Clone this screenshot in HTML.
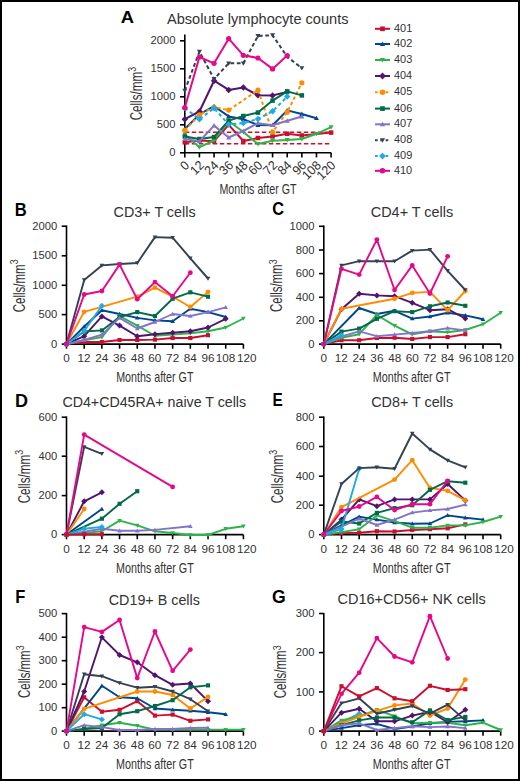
<!DOCTYPE html>
<html><head><meta charset="utf-8"><style>html,body{margin:0;padding:0;background:#fff;width:520px;height:781px;overflow:hidden}</style></head>
<body><svg width="520" height="781" viewBox="0 0 520 781" style="position:absolute;left:0;top:0"><g font-family='"Liberation Sans", sans-serif' fill="#333"><rect x="0" y="0" width="520" height="781" fill="#fff"/><rect x="1" y="1" width="518" height="779" fill="none" stroke="#000" stroke-width="2"/><path d="M184.80 34.60 V152.80 H331.10" fill="none" stroke="#000" stroke-width="1.6"/><path d="M180.00 152.80 H184.80" stroke="#000" stroke-width="1.6"/><path d="M180.00 124.80 H184.80" stroke="#000" stroke-width="1.6"/><path d="M180.00 96.80 H184.80" stroke="#000" stroke-width="1.6"/><path d="M180.00 68.80 H184.80" stroke="#000" stroke-width="1.6"/><path d="M180.00 40.80 H184.80" stroke="#000" stroke-width="1.6"/><path d="M184.80 152.80 V157.40" stroke="#000" stroke-width="1.6"/><path d="M199.43 152.80 V157.40" stroke="#000" stroke-width="1.6"/><path d="M214.06 152.80 V157.40" stroke="#000" stroke-width="1.6"/><path d="M228.69 152.80 V157.40" stroke="#000" stroke-width="1.6"/><path d="M243.32 152.80 V157.40" stroke="#000" stroke-width="1.6"/><path d="M257.95 152.80 V157.40" stroke="#000" stroke-width="1.6"/><path d="M272.58 152.80 V157.40" stroke="#000" stroke-width="1.6"/><path d="M287.21 152.80 V157.40" stroke="#000" stroke-width="1.6"/><path d="M301.84 152.80 V157.40" stroke="#000" stroke-width="1.6"/><path d="M316.47 152.80 V157.40" stroke="#000" stroke-width="1.6"/><path d="M331.10 152.80 V157.40" stroke="#000" stroke-width="1.6"/><text transform="translate(169.25 156.40) scale(0.9700 1)" font-size="11.59">0</text><text transform="translate(156.77 128.40) scale(0.9700 1)" font-size="11.59">500</text><text transform="translate(150.47 100.40) scale(0.9700 1)" font-size="11.59">1000</text><text transform="translate(150.47 72.40) scale(0.9700 1)" font-size="11.59">1500</text><text transform="translate(150.47 44.40) scale(0.9700 1)" font-size="11.59">2000</text><text transform="translate(189.80 166.40) rotate(-45) translate(-6.43 0) scale(0.97 1)" font-size="12.75">0</text><text transform="translate(204.43 166.40) rotate(-45) translate(-13.11 0) scale(0.97 1)" font-size="12.75">12</text><text transform="translate(219.06 166.40) rotate(-45) translate(-13.36 0) scale(0.97 1)" font-size="12.75">24</text><text transform="translate(233.69 166.40) rotate(-45) translate(-13.24 0) scale(0.97 1)" font-size="12.75">36</text><text transform="translate(248.32 166.40) rotate(-45) translate(-13.24 0) scale(0.97 1)" font-size="12.75">48</text><text transform="translate(262.95 166.40) rotate(-45) translate(-13.30 0) scale(0.97 1)" font-size="12.75">60</text><text transform="translate(277.58 166.40) rotate(-45) translate(-13.11 0) scale(0.97 1)" font-size="12.75">72</text><text transform="translate(292.21 166.40) rotate(-45) translate(-13.36 0) scale(0.97 1)" font-size="12.75">84</text><text transform="translate(306.84 166.40) rotate(-45) translate(-13.24 0) scale(0.97 1)" font-size="12.75">96</text><text transform="translate(321.47 166.40) rotate(-45) translate(-20.10 0) scale(0.97 1)" font-size="12.75">108</text><text transform="translate(336.10 166.40) rotate(-45) translate(-20.16 0) scale(0.97 1)" font-size="12.75">120</text><text transform="translate(219.44 194.00) scale(0.7530 1)" font-size="14.20">Months after GT</text><text transform="translate(142.45 119.75) rotate(-90) translate(-0.58 0) scale(0.7163 1)" font-size="16.23">Cells/mm</text><text transform="translate(142.45 119.75) rotate(-90) translate(47.90 -6.90) scale(0.8842 1)" font-size="10.00">3</text><text transform="translate(120.74 22.80) scale(1.0735 1)" font-size="17.10" font-weight="bold" fill="#000">A</text><text transform="translate(167.00 23.50) scale(0.9960 1)" font-size="14.64">Absolute lymphocyte counts</text><path d="M184.8 132.2 H331.3 M184.8 143.7 H331.3" stroke="#c8102e" stroke-width="1.5" stroke-dasharray="4.5 2.5" fill="none"/><path d="M184.80 142.30 L199.43 140.50 L214.06 141.20 L228.69 124.80 L243.32 141.00 L257.95 138.00 L272.58 136.40 L287.21 133.80 L301.84 135.50 L331.10 132.60" fill="none" stroke="#c8102e" stroke-width="2.0" stroke-linejoin="round"/><rect x="182.55" y="140.05" width="4.50" height="4.50" fill="#c8102e"/><rect x="197.18" y="138.25" width="4.50" height="4.50" fill="#c8102e"/><rect x="211.81" y="138.95" width="4.50" height="4.50" fill="#c8102e"/><rect x="226.44" y="122.55" width="4.50" height="4.50" fill="#c8102e"/><rect x="241.07" y="138.75" width="4.50" height="4.50" fill="#c8102e"/><rect x="255.70" y="135.75" width="4.50" height="4.50" fill="#c8102e"/><rect x="270.33" y="134.15" width="4.50" height="4.50" fill="#c8102e"/><rect x="284.96" y="131.55" width="4.50" height="4.50" fill="#c8102e"/><rect x="299.59" y="133.25" width="4.50" height="4.50" fill="#c8102e"/><rect x="328.85" y="130.35" width="4.50" height="4.50" fill="#c8102e"/><path d="M184.80 129.00 L199.43 114.40 L214.06 106.20 L228.69 116.40 L243.32 119.20 L257.95 125.00 L272.58 125.20 L287.21 110.40 L301.84 114.00 L316.47 118.20" fill="none" stroke="#00468c" stroke-width="2.0" stroke-linejoin="round"/><path d="M184.80 126.50L187.30 130.88L182.30 130.88Z" fill="#00468c"/><path d="M199.43 111.90L201.93 116.28L196.93 116.28Z" fill="#00468c"/><path d="M214.06 103.70L216.56 108.08L211.56 108.08Z" fill="#00468c"/><path d="M228.69 113.90L231.19 118.28L226.19 118.28Z" fill="#00468c"/><path d="M243.32 116.70L245.82 121.08L240.82 121.08Z" fill="#00468c"/><path d="M257.95 122.50L260.45 126.88L255.45 126.88Z" fill="#00468c"/><path d="M272.58 122.70L275.08 127.08L270.08 127.08Z" fill="#00468c"/><path d="M287.21 107.90L289.71 112.28L284.71 112.28Z" fill="#00468c"/><path d="M301.84 111.50L304.34 115.88L299.34 115.88Z" fill="#00468c"/><path d="M316.47 115.70L318.97 120.08L313.97 120.08Z" fill="#00468c"/><path d="M184.80 134.60 L199.43 147.20 L214.06 140.50 L228.69 121.00 L243.32 132.00 L257.95 144.00 L272.58 140.70 L287.21 139.90 L301.84 139.00 L316.47 133.80 L331.10 127.20" fill="none" stroke="#2db34a" stroke-width="2.0" stroke-linejoin="round"/><path d="M184.80 137.10L187.30 132.72L182.30 132.72Z" fill="#2db34a"/><path d="M199.43 149.70L201.93 145.32L196.93 145.32Z" fill="#2db34a"/><path d="M214.06 143.00L216.56 138.62L211.56 138.62Z" fill="#2db34a"/><path d="M228.69 123.50L231.19 119.12L226.19 119.12Z" fill="#2db34a"/><path d="M243.32 134.50L245.82 130.12L240.82 130.12Z" fill="#2db34a"/><path d="M257.95 146.50L260.45 142.12L255.45 142.12Z" fill="#2db34a"/><path d="M272.58 143.20L275.08 138.82L270.08 138.82Z" fill="#2db34a"/><path d="M287.21 142.40L289.71 138.03L284.71 138.03Z" fill="#2db34a"/><path d="M301.84 141.50L304.34 137.12L299.34 137.12Z" fill="#2db34a"/><path d="M316.47 136.30L318.97 131.93L313.97 131.93Z" fill="#2db34a"/><path d="M331.10 129.70L333.60 125.33L328.60 125.33Z" fill="#2db34a"/><path d="M184.80 119.20 L199.43 111.50 L214.06 80.70 L228.69 89.90 L243.32 87.40 L257.95 95.30 L272.58 95.40 L287.21 92.00" fill="none" stroke="#50146e" stroke-width="2.0" stroke-linejoin="round"/><path d="M184.80 115.95L188.05 119.20L184.80 122.45L181.55 119.20Z" fill="#50146e"/><path d="M199.43 108.25L202.68 111.50L199.43 114.75L196.18 111.50Z" fill="#50146e"/><path d="M214.06 77.45L217.31 80.70L214.06 83.95L210.81 80.70Z" fill="#50146e"/><path d="M228.69 86.65L231.94 89.90L228.69 93.15L225.44 89.90Z" fill="#50146e"/><path d="M243.32 84.15L246.57 87.40L243.32 90.65L240.07 87.40Z" fill="#50146e"/><path d="M257.95 92.05L261.20 95.30L257.95 98.55L254.70 95.30Z" fill="#50146e"/><path d="M272.58 92.15L275.83 95.40L272.58 98.65L269.33 95.40Z" fill="#50146e"/><path d="M287.21 88.75L290.46 92.00L287.21 95.25L283.96 92.00Z" fill="#50146e"/><path d="M184.80 130.30 L199.43 114.90 L214.06 107.00 L228.69 110.10 L257.95 90.20 L272.58 132.00 L287.21 112.20 L301.84 82.80" fill="none" stroke="#ff8c00" stroke-width="2.0" stroke-linejoin="round" stroke-dasharray="3.3 2.6"/><circle cx="184.80" cy="130.30" r="2.62" fill="#ff8c00"/><circle cx="199.43" cy="114.90" r="2.62" fill="#ff8c00"/><circle cx="214.06" cy="107.00" r="2.62" fill="#ff8c00"/><circle cx="228.69" cy="110.10" r="2.62" fill="#ff8c00"/><circle cx="257.95" cy="90.20" r="2.62" fill="#ff8c00"/><circle cx="272.58" cy="132.00" r="2.62" fill="#ff8c00"/><circle cx="287.21" cy="112.20" r="2.62" fill="#ff8c00"/><circle cx="301.84" cy="82.80" r="2.62" fill="#ff8c00"/><path d="M184.80 136.50 L199.43 139.00 L214.06 137.00 L228.69 120.60 L243.32 116.00 L257.95 112.60 L272.58 100.60 L287.21 91.40 L301.84 95.40" fill="none" stroke="#006b46" stroke-width="2.0" stroke-linejoin="round"/><rect x="182.55" y="134.25" width="4.50" height="4.50" fill="#006b46"/><rect x="197.18" y="136.75" width="4.50" height="4.50" fill="#006b46"/><rect x="211.81" y="134.75" width="4.50" height="4.50" fill="#006b46"/><rect x="226.44" y="118.35" width="4.50" height="4.50" fill="#006b46"/><rect x="241.07" y="113.75" width="4.50" height="4.50" fill="#006b46"/><rect x="255.70" y="110.35" width="4.50" height="4.50" fill="#006b46"/><rect x="270.33" y="98.35" width="4.50" height="4.50" fill="#006b46"/><rect x="284.96" y="89.15" width="4.50" height="4.50" fill="#006b46"/><rect x="299.59" y="93.15" width="4.50" height="4.50" fill="#006b46"/><path d="M184.80 139.00 L199.43 141.30 L214.06 125.60 L228.69 137.50 L243.32 131.00 L257.95 123.20 L272.58 125.20 L287.21 120.80 L301.84 116.50" fill="none" stroke="#8474c8" stroke-width="2.0" stroke-linejoin="round"/><path d="M184.80 136.50L187.30 140.88L182.30 140.88Z" fill="#8474c8"/><path d="M199.43 138.80L201.93 143.18L196.93 143.18Z" fill="#8474c8"/><path d="M214.06 123.10L216.56 127.47L211.56 127.47Z" fill="#8474c8"/><path d="M228.69 135.00L231.19 139.38L226.19 139.38Z" fill="#8474c8"/><path d="M243.32 128.50L245.82 132.88L240.82 132.88Z" fill="#8474c8"/><path d="M257.95 120.70L260.45 125.08L255.45 125.08Z" fill="#8474c8"/><path d="M272.58 122.70L275.08 127.08L270.08 127.08Z" fill="#8474c8"/><path d="M287.21 118.30L289.71 122.67L284.71 122.67Z" fill="#8474c8"/><path d="M301.84 114.00L304.34 118.38L299.34 118.38Z" fill="#8474c8"/><path d="M184.80 108.00 L199.43 119.20 L214.06 108.20 L228.69 124.60 L243.32 123.00 L257.95 119.00 L272.58 111.30 L287.21 96.60" fill="none" stroke="#1eaae6" stroke-width="2.0" stroke-linejoin="round" stroke-dasharray="3.4 2.9"/><path d="M184.80 104.75L188.05 108.00L184.80 111.25L181.55 108.00Z" fill="#1eaae6"/><path d="M199.43 115.95L202.68 119.20L199.43 122.45L196.18 119.20Z" fill="#1eaae6"/><path d="M214.06 104.95L217.31 108.20L214.06 111.45L210.81 108.20Z" fill="#1eaae6"/><path d="M228.69 121.35L231.94 124.60L228.69 127.85L225.44 124.60Z" fill="#1eaae6"/><path d="M243.32 119.75L246.57 123.00L243.32 126.25L240.07 123.00Z" fill="#1eaae6"/><path d="M257.95 115.75L261.20 119.00L257.95 122.25L254.70 119.00Z" fill="#1eaae6"/><path d="M272.58 108.05L275.83 111.30L272.58 114.55L269.33 111.30Z" fill="#1eaae6"/><path d="M287.21 93.35L290.46 96.60L287.21 99.85L283.96 96.60Z" fill="#1eaae6"/><path d="M184.80 90.70 L199.43 51.60 L214.06 79.00 L228.69 63.30 L243.32 63.30 L257.95 36.00 L272.58 35.20 L287.21 56.80 L301.84 68.10" fill="none" stroke="#344154" stroke-width="2.0" stroke-linejoin="round" stroke-dasharray="3.8 2.6"/><path d="M184.80 93.20L187.30 88.83L182.30 88.83Z" fill="#344154"/><path d="M199.43 54.10L201.93 49.73L196.93 49.73Z" fill="#344154"/><path d="M214.06 81.50L216.56 77.12L211.56 77.12Z" fill="#344154"/><path d="M228.69 65.80L231.19 61.42L226.19 61.42Z" fill="#344154"/><path d="M243.32 65.80L245.82 61.42L240.82 61.42Z" fill="#344154"/><path d="M257.95 38.50L260.45 34.12L255.45 34.12Z" fill="#344154"/><path d="M272.58 37.70L275.08 33.33L270.08 33.33Z" fill="#344154"/><path d="M287.21 59.30L289.71 54.92L284.71 54.92Z" fill="#344154"/><path d="M301.84 70.60L304.34 66.22L299.34 66.22Z" fill="#344154"/><path d="M184.80 107.70 L199.43 57.00 L214.06 63.30 L228.69 38.70 L243.32 55.30 L257.95 58.00 L272.58 68.90 L287.21 55.60" fill="none" stroke="#e6078a" stroke-width="2.0" stroke-linejoin="round"/><circle cx="184.80" cy="107.70" r="2.62" fill="#e6078a"/><circle cx="199.43" cy="57.00" r="2.62" fill="#e6078a"/><circle cx="214.06" cy="63.30" r="2.62" fill="#e6078a"/><circle cx="228.69" cy="38.70" r="2.62" fill="#e6078a"/><circle cx="243.32" cy="55.30" r="2.62" fill="#e6078a"/><circle cx="257.95" cy="58.00" r="2.62" fill="#e6078a"/><circle cx="272.58" cy="68.90" r="2.62" fill="#e6078a"/><circle cx="287.21" cy="55.60" r="2.62" fill="#e6078a"/><path d="M375 28.8 H390" stroke="#c8102e" stroke-width="2"/><rect x="380.16" y="26.46" width="4.68" height="4.68" fill="#c8102e"/><text transform="translate(393.98 31.80) scale(1.0257 1)" font-size="10.72">401</text><path d="M375 44 H390" stroke="#00468c" stroke-width="2"/><path d="M382.50 41.40L385.10 45.95L379.90 45.95Z" fill="#00468c"/><text transform="translate(393.98 47.00) scale(1.0289 1)" font-size="10.72">402</text><path d="M375 60 H390" stroke="#2db34a" stroke-width="2"/><path d="M382.50 62.60L385.10 58.05L379.90 58.05Z" fill="#2db34a"/><text transform="translate(393.98 63.00) scale(1.0225 1)" font-size="10.72">403</text><path d="M375 76 H390" stroke="#50146e" stroke-width="2"/><path d="M382.50 72.62L385.88 76.00L382.50 79.38L379.12 76.00Z" fill="#50146e"/><text transform="translate(393.98 79.00) scale(1.0161 1)" font-size="10.72">404</text><path d="M375 92.3 H390" stroke="#ff8c00" stroke-width="2" stroke-dasharray="2.7 2.6"/><circle cx="382.50" cy="92.30" r="2.73" fill="#ff8c00"/><text transform="translate(393.98 95.30) scale(1.0225 1)" font-size="10.72">405</text><path d="M375 108.6 H390" stroke="#006b46" stroke-width="2"/><rect x="380.16" y="106.26" width="4.68" height="4.68" fill="#006b46"/><text transform="translate(393.98 111.60) scale(1.0225 1)" font-size="10.72">406</text><path d="M375 124.3 H390" stroke="#8474c8" stroke-width="2"/><path d="M382.50 121.70L385.10 126.25L379.90 126.25Z" fill="#8474c8"/><text transform="translate(393.98 127.30) scale(1.0289 1)" font-size="10.72">407</text><path d="M375 140.2 H390" stroke="#344154" stroke-width="2" stroke-dasharray="2.7 2.6"/><path d="M382.50 142.80L385.10 138.25L379.90 138.25Z" fill="#344154"/><text transform="translate(393.98 143.20) scale(1.0225 1)" font-size="10.72">408</text><path d="M375 156.1 H390" stroke="#1eaae6" stroke-width="2" stroke-dasharray="2.7 2.6"/><path d="M382.50 152.72L385.88 156.10L382.50 159.48L379.12 156.10Z" fill="#1eaae6"/><text transform="translate(393.98 159.10) scale(1.0257 1)" font-size="10.72">409</text><path d="M375 170.8 H390" stroke="#e6078a" stroke-width="2"/><circle cx="382.50" cy="170.80" r="2.73" fill="#e6078a"/><text transform="translate(393.98 173.80) scale(1.0193 1)" font-size="10.72">410</text><path d="M66.50 225.40 V344.10 H243.40" fill="none" stroke="#000" stroke-width="1.6"/><path d="M61.70 344.10 H66.50" stroke="#000" stroke-width="1.6"/><path d="M61.70 314.60 H66.50" stroke="#000" stroke-width="1.6"/><path d="M61.70 285.30 H66.50" stroke="#000" stroke-width="1.6"/><path d="M61.70 255.80 H66.50" stroke="#000" stroke-width="1.6"/><path d="M61.70 226.20 H66.50" stroke="#000" stroke-width="1.6"/><path d="M66.50 344.10 V348.70" stroke="#000" stroke-width="1.6"/><path d="M84.19 344.10 V348.70" stroke="#000" stroke-width="1.6"/><path d="M101.88 344.10 V348.70" stroke="#000" stroke-width="1.6"/><path d="M119.57 344.10 V348.70" stroke="#000" stroke-width="1.6"/><path d="M137.26 344.10 V348.70" stroke="#000" stroke-width="1.6"/><path d="M154.95 344.10 V348.70" stroke="#000" stroke-width="1.6"/><path d="M172.64 344.10 V348.70" stroke="#000" stroke-width="1.6"/><path d="M190.33 344.10 V348.70" stroke="#000" stroke-width="1.6"/><path d="M208.02 344.10 V348.70" stroke="#000" stroke-width="1.6"/><path d="M225.71 344.10 V348.70" stroke="#000" stroke-width="1.6"/><path d="M243.40 344.10 V348.70" stroke="#000" stroke-width="1.6"/><text transform="translate(50.95 347.70) scale(0.9700 1)" font-size="11.59">0</text><text transform="translate(38.47 318.20) scale(0.9700 1)" font-size="11.59">500</text><text transform="translate(32.17 288.90) scale(0.9700 1)" font-size="11.59">1000</text><text transform="translate(32.17 259.40) scale(0.9700 1)" font-size="11.59">1500</text><text transform="translate(32.17 229.80) scale(0.9700 1)" font-size="11.59">2000</text><text transform="translate(63.21 362.30) scale(1.0400 1)" font-size="11.30">0</text><text transform="translate(77.52 362.30) scale(1.0400 1)" font-size="11.30">12</text><text transform="translate(95.24 362.30) scale(1.0400 1)" font-size="11.30">24</text><text transform="translate(113.05 362.30) scale(1.0400 1)" font-size="11.30">36</text><text transform="translate(130.85 362.30) scale(1.0400 1)" font-size="11.30">48</text><text transform="translate(148.34 362.30) scale(1.0400 1)" font-size="11.30">60</text><text transform="translate(166.12 362.30) scale(1.0400 1)" font-size="11.30">72</text><text transform="translate(183.72 362.30) scale(1.0400 1)" font-size="11.30">84</text><text transform="translate(201.47 362.30) scale(1.0400 1)" font-size="11.30">96</text><text transform="translate(215.72 362.30) scale(1.0400 1)" font-size="11.30">108</text><text transform="translate(236.88 362.30) scale(1.0400 1)" font-size="11.30">120</text><text transform="translate(14.72 215.60) scale(0.9364 1)" font-size="17.68" font-weight="bold" fill="#000">B</text><text transform="translate(113.58 216.90) scale(1.0003 1)" font-size="14.35">CD3+ T cells</text><text transform="translate(116.14 382.00) scale(0.7540 1)" font-size="14.20">Months after GT</text><text transform="translate(24.55 311.75) rotate(-90) translate(-0.58 0) scale(0.7103 1)" font-size="16.23">Cells/mm</text><text transform="translate(24.55 311.75) rotate(-90) translate(47.50 -6.50) scale(0.8364 1)" font-size="10.57">3</text><path d="M66.50 344.10 L84.19 342.00 L101.88 342.00 L119.57 340.00 L137.26 340.00 L154.95 339.60 L172.64 338.00 L190.33 338.00 L208.02 335.20" fill="none" stroke="#c8102e" stroke-width="1.9" stroke-linejoin="round"/><rect x="64.43" y="342.03" width="4.14" height="4.14" fill="#c8102e"/><rect x="82.12" y="339.93" width="4.14" height="4.14" fill="#c8102e"/><rect x="99.81" y="339.93" width="4.14" height="4.14" fill="#c8102e"/><rect x="117.50" y="337.93" width="4.14" height="4.14" fill="#c8102e"/><rect x="135.19" y="337.93" width="4.14" height="4.14" fill="#c8102e"/><rect x="152.88" y="337.53" width="4.14" height="4.14" fill="#c8102e"/><rect x="170.57" y="335.93" width="4.14" height="4.14" fill="#c8102e"/><rect x="188.26" y="335.93" width="4.14" height="4.14" fill="#c8102e"/><rect x="205.95" y="333.13" width="4.14" height="4.14" fill="#c8102e"/><path d="M66.50 344.10 L84.19 326.50 L101.88 310.20 L119.57 314.00 L137.26 317.90 L154.95 320.40 L172.64 321.20 L190.33 308.80 L208.02 312.10 L225.71 317.00" fill="none" stroke="#00468c" stroke-width="1.9" stroke-linejoin="round"/><path d="M66.50 341.80L68.80 345.83L64.20 345.83Z" fill="#00468c"/><path d="M84.19 324.20L86.49 328.23L81.89 328.23Z" fill="#00468c"/><path d="M101.88 307.90L104.18 311.93L99.58 311.93Z" fill="#00468c"/><path d="M119.57 311.70L121.87 315.73L117.27 315.73Z" fill="#00468c"/><path d="M137.26 315.60L139.56 319.62L134.96 319.62Z" fill="#00468c"/><path d="M154.95 318.10L157.25 322.12L152.65 322.12Z" fill="#00468c"/><path d="M172.64 318.90L174.94 322.93L170.34 322.93Z" fill="#00468c"/><path d="M190.33 306.50L192.63 310.53L188.03 310.53Z" fill="#00468c"/><path d="M208.02 309.80L210.32 313.83L205.72 313.83Z" fill="#00468c"/><path d="M225.71 314.70L228.01 318.73L223.41 318.73Z" fill="#00468c"/><path d="M66.50 344.10 L84.19 340.30 L101.88 337.10 L119.57 316.00 L137.26 325.60 L154.95 335.80 L172.64 334.60 L190.33 333.30 L208.02 331.30 L225.71 327.50 L243.40 318.50" fill="none" stroke="#2db34a" stroke-width="1.9" stroke-linejoin="round"/><path d="M66.50 346.40L68.80 342.38L64.20 342.38Z" fill="#2db34a"/><path d="M84.19 342.60L86.49 338.57L81.89 338.57Z" fill="#2db34a"/><path d="M101.88 339.40L104.18 335.38L99.58 335.38Z" fill="#2db34a"/><path d="M119.57 318.30L121.87 314.27L117.27 314.27Z" fill="#2db34a"/><path d="M137.26 327.90L139.56 323.88L134.96 323.88Z" fill="#2db34a"/><path d="M154.95 338.10L157.25 334.07L152.65 334.07Z" fill="#2db34a"/><path d="M172.64 336.90L174.94 332.88L170.34 332.88Z" fill="#2db34a"/><path d="M190.33 335.60L192.63 331.57L188.03 331.57Z" fill="#2db34a"/><path d="M208.02 333.60L210.32 329.57L205.72 329.57Z" fill="#2db34a"/><path d="M225.71 329.80L228.01 325.77L223.41 325.77Z" fill="#2db34a"/><path d="M243.40 320.80L245.70 316.77L241.10 316.77Z" fill="#2db34a"/><path d="M66.50 344.10 L84.19 336.20 L101.88 316.40 L119.57 325.60 L137.26 336.20 L154.95 334.20 L172.64 332.70 L190.33 331.30 L208.02 327.50 L225.71 318.80" fill="none" stroke="#50146e" stroke-width="1.9" stroke-linejoin="round"/><path d="M66.50 341.11L69.49 344.10L66.50 347.09L63.51 344.10Z" fill="#50146e"/><path d="M84.19 333.21L87.18 336.20L84.19 339.19L81.20 336.20Z" fill="#50146e"/><path d="M101.88 313.41L104.87 316.40L101.88 319.39L98.89 316.40Z" fill="#50146e"/><path d="M119.57 322.61L122.56 325.60L119.57 328.59L116.58 325.60Z" fill="#50146e"/><path d="M137.26 333.21L140.25 336.20L137.26 339.19L134.27 336.20Z" fill="#50146e"/><path d="M154.95 331.21L157.94 334.20L154.95 337.19L151.96 334.20Z" fill="#50146e"/><path d="M172.64 329.71L175.63 332.70L172.64 335.69L169.65 332.70Z" fill="#50146e"/><path d="M190.33 328.31L193.32 331.30L190.33 334.29L187.34 331.30Z" fill="#50146e"/><path d="M208.02 324.51L211.01 327.50L208.02 330.49L205.03 327.50Z" fill="#50146e"/><path d="M225.71 315.81L228.70 318.80L225.71 321.79L222.72 318.80Z" fill="#50146e"/><path d="M66.50 344.10 L84.19 311.80 L137.26 296.70 L154.95 287.70 L172.64 296.70 L190.33 307.00 L208.02 291.90" fill="none" stroke="#ff8c00" stroke-width="1.9" stroke-linejoin="round"/><circle cx="66.50" cy="344.10" r="2.42" fill="#ff8c00"/><circle cx="84.19" cy="311.80" r="2.42" fill="#ff8c00"/><circle cx="137.26" cy="296.70" r="2.42" fill="#ff8c00"/><circle cx="154.95" cy="287.70" r="2.42" fill="#ff8c00"/><circle cx="172.64" cy="296.70" r="2.42" fill="#ff8c00"/><circle cx="190.33" cy="307.00" r="2.42" fill="#ff8c00"/><circle cx="208.02" cy="291.90" r="2.42" fill="#ff8c00"/><path d="M66.50 344.10 L84.19 331.50 L101.88 330.40 L119.57 317.00 L137.26 312.10 L154.95 316.00 L172.64 298.70 L190.33 292.30 L208.02 296.70" fill="none" stroke="#006b46" stroke-width="1.9" stroke-linejoin="round"/><rect x="64.43" y="342.03" width="4.14" height="4.14" fill="#006b46"/><rect x="82.12" y="329.43" width="4.14" height="4.14" fill="#006b46"/><rect x="99.81" y="328.33" width="4.14" height="4.14" fill="#006b46"/><rect x="117.50" y="314.93" width="4.14" height="4.14" fill="#006b46"/><rect x="135.19" y="310.03" width="4.14" height="4.14" fill="#006b46"/><rect x="152.88" y="313.93" width="4.14" height="4.14" fill="#006b46"/><rect x="170.57" y="296.63" width="4.14" height="4.14" fill="#006b46"/><rect x="188.26" y="290.23" width="4.14" height="4.14" fill="#006b46"/><rect x="205.95" y="294.63" width="4.14" height="4.14" fill="#006b46"/><path d="M66.50 344.10 L84.19 340.00 L101.88 334.70 L119.57 317.90 L137.26 328.50 L154.95 322.00 L172.64 314.00 L190.33 316.00 L208.02 312.10 L225.71 307.30" fill="none" stroke="#8474c8" stroke-width="1.9" stroke-linejoin="round"/><path d="M66.50 341.80L68.80 345.83L64.20 345.83Z" fill="#8474c8"/><path d="M84.19 337.70L86.49 341.73L81.89 341.73Z" fill="#8474c8"/><path d="M101.88 332.40L104.18 336.43L99.58 336.43Z" fill="#8474c8"/><path d="M119.57 315.60L121.87 319.62L117.27 319.62Z" fill="#8474c8"/><path d="M137.26 326.20L139.56 330.23L134.96 330.23Z" fill="#8474c8"/><path d="M154.95 319.70L157.25 323.73L152.65 323.73Z" fill="#8474c8"/><path d="M172.64 311.70L174.94 315.73L170.34 315.73Z" fill="#8474c8"/><path d="M190.33 313.70L192.63 317.73L188.03 317.73Z" fill="#8474c8"/><path d="M208.02 309.80L210.32 313.83L205.72 313.83Z" fill="#8474c8"/><path d="M225.71 305.00L228.01 309.03L223.41 309.03Z" fill="#8474c8"/><path d="M66.50 344.10 L84.19 331.00 L101.88 305.80" fill="none" stroke="#1eaae6" stroke-width="1.9" stroke-linejoin="round"/><path d="M66.50 341.11L69.49 344.10L66.50 347.09L63.51 344.10Z" fill="#1eaae6"/><path d="M84.19 328.01L87.18 331.00L84.19 333.99L81.20 331.00Z" fill="#1eaae6"/><path d="M101.88 302.81L104.87 305.80L101.88 308.79L98.89 305.80Z" fill="#1eaae6"/><path d="M66.50 344.10 L84.19 280.00 L101.88 265.40 L119.57 264.00 L137.26 263.00 L154.95 237.10 L172.64 237.70 L190.33 258.30 L208.02 278.50" fill="none" stroke="#344154" stroke-width="1.9" stroke-linejoin="round"/><path d="M66.50 346.40L68.80 342.38L64.20 342.38Z" fill="#344154"/><path d="M84.19 282.30L86.49 278.27L81.89 278.27Z" fill="#344154"/><path d="M101.88 267.70L104.18 263.67L99.58 263.67Z" fill="#344154"/><path d="M119.57 266.30L121.87 262.27L117.27 262.27Z" fill="#344154"/><path d="M137.26 265.30L139.56 261.27L134.96 261.27Z" fill="#344154"/><path d="M154.95 239.40L157.25 235.38L152.65 235.38Z" fill="#344154"/><path d="M172.64 240.00L174.94 235.97L170.34 235.97Z" fill="#344154"/><path d="M190.33 260.60L192.63 256.57L188.03 256.57Z" fill="#344154"/><path d="M208.02 280.80L210.32 276.77L205.72 276.77Z" fill="#344154"/><path d="M66.50 344.10 L84.19 294.50 L101.88 291.00 L119.57 264.60 L137.26 299.20 L154.95 282.10 L172.64 296.20 L190.33 272.70" fill="none" stroke="#e6078a" stroke-width="1.9" stroke-linejoin="round"/><circle cx="66.50" cy="344.10" r="2.42" fill="#e6078a"/><circle cx="84.19" cy="294.50" r="2.42" fill="#e6078a"/><circle cx="101.88" cy="291.00" r="2.42" fill="#e6078a"/><circle cx="119.57" cy="264.60" r="2.42" fill="#e6078a"/><circle cx="137.26" cy="299.20" r="2.42" fill="#e6078a"/><circle cx="154.95" cy="282.10" r="2.42" fill="#e6078a"/><circle cx="172.64" cy="296.20" r="2.42" fill="#e6078a"/><circle cx="190.33" cy="272.70" r="2.42" fill="#e6078a"/><path d="M323.80 225.40 V344.10 H500.70" fill="none" stroke="#000" stroke-width="1.6"/><path d="M319.00 344.10 H323.80" stroke="#000" stroke-width="1.6"/><path d="M319.00 320.80 H323.80" stroke="#000" stroke-width="1.6"/><path d="M319.00 297.30 H323.80" stroke="#000" stroke-width="1.6"/><path d="M319.00 273.60 H323.80" stroke="#000" stroke-width="1.6"/><path d="M319.00 250.00 H323.80" stroke="#000" stroke-width="1.6"/><path d="M319.00 226.30 H323.80" stroke="#000" stroke-width="1.6"/><path d="M323.80 344.10 V348.70" stroke="#000" stroke-width="1.6"/><path d="M341.49 344.10 V348.70" stroke="#000" stroke-width="1.6"/><path d="M359.18 344.10 V348.70" stroke="#000" stroke-width="1.6"/><path d="M376.87 344.10 V348.70" stroke="#000" stroke-width="1.6"/><path d="M394.56 344.10 V348.70" stroke="#000" stroke-width="1.6"/><path d="M412.25 344.10 V348.70" stroke="#000" stroke-width="1.6"/><path d="M429.94 344.10 V348.70" stroke="#000" stroke-width="1.6"/><path d="M447.63 344.10 V348.70" stroke="#000" stroke-width="1.6"/><path d="M465.32 344.10 V348.70" stroke="#000" stroke-width="1.6"/><path d="M483.01 344.10 V348.70" stroke="#000" stroke-width="1.6"/><path d="M500.70 344.10 V348.70" stroke="#000" stroke-width="1.6"/><text transform="translate(308.25 347.70) scale(0.9700 1)" font-size="11.59">0</text><text transform="translate(295.77 324.40) scale(0.9700 1)" font-size="11.59">200</text><text transform="translate(295.77 300.90) scale(0.9700 1)" font-size="11.59">400</text><text transform="translate(295.77 277.20) scale(0.9700 1)" font-size="11.59">600</text><text transform="translate(295.77 253.60) scale(0.9700 1)" font-size="11.59">800</text><text transform="translate(289.47 229.90) scale(0.9700 1)" font-size="11.59">1000</text><text transform="translate(320.51 362.30) scale(1.0400 1)" font-size="11.30">0</text><text transform="translate(334.82 362.30) scale(1.0400 1)" font-size="11.30">12</text><text transform="translate(352.54 362.30) scale(1.0400 1)" font-size="11.30">24</text><text transform="translate(370.35 362.30) scale(1.0400 1)" font-size="11.30">36</text><text transform="translate(388.15 362.30) scale(1.0400 1)" font-size="11.30">48</text><text transform="translate(405.64 362.30) scale(1.0400 1)" font-size="11.30">60</text><text transform="translate(423.42 362.30) scale(1.0400 1)" font-size="11.30">72</text><text transform="translate(441.02 362.30) scale(1.0400 1)" font-size="11.30">84</text><text transform="translate(458.77 362.30) scale(1.0400 1)" font-size="11.30">96</text><text transform="translate(473.02 362.30) scale(1.0400 1)" font-size="11.30">108</text><text transform="translate(494.18 362.30) scale(1.0400 1)" font-size="11.30">120</text><text transform="translate(272.15 215.20) scale(0.9239 1)" font-size="17.68" font-weight="bold" fill="#000">C</text><text transform="translate(370.78 216.90) scale(1.0065 1)" font-size="14.35">CD4+ T cells</text><text transform="translate(372.64 381.80) scale(0.7599 1)" font-size="14.20">Months after GT</text><text transform="translate(281.55 311.35) rotate(-90) translate(-0.57 0) scale(0.7042 1)" font-size="16.23">Cells/mm</text><text transform="translate(281.55 311.35) rotate(-90) translate(47.10 -4.40) scale(0.7935 1)" font-size="11.14">3</text><path d="M323.80 344.10 L341.49 340.20 L359.18 340.20 L376.87 338.00 L394.56 337.70 L412.25 339.00 L429.94 337.10 L447.63 337.10 L465.32 334.20" fill="none" stroke="#c8102e" stroke-width="1.9" stroke-linejoin="round"/><rect x="321.73" y="342.03" width="4.14" height="4.14" fill="#c8102e"/><rect x="339.42" y="338.13" width="4.14" height="4.14" fill="#c8102e"/><rect x="357.11" y="338.13" width="4.14" height="4.14" fill="#c8102e"/><rect x="374.80" y="335.93" width="4.14" height="4.14" fill="#c8102e"/><rect x="392.49" y="335.63" width="4.14" height="4.14" fill="#c8102e"/><rect x="410.18" y="336.93" width="4.14" height="4.14" fill="#c8102e"/><rect x="427.87" y="335.03" width="4.14" height="4.14" fill="#c8102e"/><rect x="445.56" y="335.03" width="4.14" height="4.14" fill="#c8102e"/><rect x="463.25" y="332.13" width="4.14" height="4.14" fill="#c8102e"/><path d="M323.80 344.10 L359.18 308.00 L376.87 314.00 L394.56 310.80 L412.25 318.60 L429.94 316.50 L447.63 312.70 L465.32 315.40 L483.01 319.20" fill="none" stroke="#00468c" stroke-width="1.9" stroke-linejoin="round"/><path d="M323.80 341.80L326.10 345.83L321.50 345.83Z" fill="#00468c"/><path d="M359.18 305.70L361.48 309.73L356.88 309.73Z" fill="#00468c"/><path d="M376.87 311.70L379.17 315.73L374.57 315.73Z" fill="#00468c"/><path d="M394.56 308.50L396.86 312.53L392.26 312.53Z" fill="#00468c"/><path d="M412.25 316.30L414.55 320.33L409.95 320.33Z" fill="#00468c"/><path d="M429.94 314.20L432.24 318.23L427.64 318.23Z" fill="#00468c"/><path d="M447.63 310.40L449.93 314.43L445.33 314.43Z" fill="#00468c"/><path d="M465.32 313.10L467.62 317.12L463.02 317.12Z" fill="#00468c"/><path d="M483.01 316.90L485.31 320.93L480.71 320.93Z" fill="#00468c"/><path d="M323.80 344.10 L341.49 337.80 L359.18 334.20 L376.87 315.00 L394.56 325.60 L412.25 334.40 L429.94 331.30 L447.63 332.30 L465.32 330.00 L483.01 324.20 L500.70 312.70" fill="none" stroke="#2db34a" stroke-width="1.9" stroke-linejoin="round"/><path d="M323.80 346.40L326.10 342.38L321.50 342.38Z" fill="#2db34a"/><path d="M341.49 340.10L343.79 336.07L339.19 336.07Z" fill="#2db34a"/><path d="M359.18 336.50L361.48 332.47L356.88 332.47Z" fill="#2db34a"/><path d="M376.87 317.30L379.17 313.27L374.57 313.27Z" fill="#2db34a"/><path d="M394.56 327.90L396.86 323.88L392.26 323.88Z" fill="#2db34a"/><path d="M412.25 336.70L414.55 332.67L409.95 332.67Z" fill="#2db34a"/><path d="M429.94 333.60L432.24 329.57L427.64 329.57Z" fill="#2db34a"/><path d="M447.63 334.60L449.93 330.57L445.33 330.57Z" fill="#2db34a"/><path d="M465.32 332.30L467.62 328.27L463.02 328.27Z" fill="#2db34a"/><path d="M483.01 326.50L485.31 322.47L480.71 322.47Z" fill="#2db34a"/><path d="M500.70 315.00L503.00 310.97L498.40 310.97Z" fill="#2db34a"/><path d="M323.80 344.10 L341.49 309.20 L359.18 293.80 L376.87 295.40 L394.56 296.20 L412.25 302.80 L429.94 310.20 L447.63 309.20 L465.32 318.50" fill="none" stroke="#50146e" stroke-width="1.9" stroke-linejoin="round"/><path d="M323.80 341.11L326.79 344.10L323.80 347.09L320.81 344.10Z" fill="#50146e"/><path d="M341.49 306.21L344.48 309.20L341.49 312.19L338.50 309.20Z" fill="#50146e"/><path d="M359.18 290.81L362.17 293.80L359.18 296.79L356.19 293.80Z" fill="#50146e"/><path d="M376.87 292.41L379.86 295.40L376.87 298.39L373.88 295.40Z" fill="#50146e"/><path d="M394.56 293.21L397.55 296.20L394.56 299.19L391.57 296.20Z" fill="#50146e"/><path d="M412.25 299.81L415.24 302.80L412.25 305.79L409.26 302.80Z" fill="#50146e"/><path d="M429.94 307.21L432.93 310.20L429.94 313.19L426.95 310.20Z" fill="#50146e"/><path d="M447.63 306.21L450.62 309.20L447.63 312.19L444.64 309.20Z" fill="#50146e"/><path d="M465.32 315.51L468.31 318.50L465.32 321.49L462.33 318.50Z" fill="#50146e"/><path d="M323.80 344.10 L341.49 308.80 L394.56 298.70 L412.25 292.90 L429.94 291.90 L447.63 310.20 L465.32 291.00" fill="none" stroke="#ff8c00" stroke-width="1.9" stroke-linejoin="round"/><circle cx="323.80" cy="344.10" r="2.42" fill="#ff8c00"/><circle cx="341.49" cy="308.80" r="2.42" fill="#ff8c00"/><circle cx="394.56" cy="298.70" r="2.42" fill="#ff8c00"/><circle cx="412.25" cy="292.90" r="2.42" fill="#ff8c00"/><circle cx="429.94" cy="291.90" r="2.42" fill="#ff8c00"/><circle cx="447.63" cy="310.20" r="2.42" fill="#ff8c00"/><circle cx="465.32" cy="291.00" r="2.42" fill="#ff8c00"/><path d="M323.80 344.10 L341.49 331.60 L359.18 328.60 L376.87 318.80 L394.56 311.20 L412.25 312.10 L429.94 306.30 L447.63 302.50 L465.32 305.80" fill="none" stroke="#006b46" stroke-width="1.9" stroke-linejoin="round"/><rect x="321.73" y="342.03" width="4.14" height="4.14" fill="#006b46"/><rect x="339.42" y="329.53" width="4.14" height="4.14" fill="#006b46"/><rect x="357.11" y="326.53" width="4.14" height="4.14" fill="#006b46"/><rect x="374.80" y="316.73" width="4.14" height="4.14" fill="#006b46"/><rect x="392.49" y="309.13" width="4.14" height="4.14" fill="#006b46"/><rect x="410.18" y="310.03" width="4.14" height="4.14" fill="#006b46"/><rect x="427.87" y="304.23" width="4.14" height="4.14" fill="#006b46"/><rect x="445.56" y="300.43" width="4.14" height="4.14" fill="#006b46"/><rect x="463.25" y="303.73" width="4.14" height="4.14" fill="#006b46"/><path d="M323.80 344.10 L341.49 336.40 L359.18 331.30 L376.87 336.20 L394.56 334.60 L412.25 333.00 L429.94 331.30 L447.63 328.10 L465.32 330.40" fill="none" stroke="#8474c8" stroke-width="1.9" stroke-linejoin="round"/><path d="M323.80 341.80L326.10 345.83L321.50 345.83Z" fill="#8474c8"/><path d="M341.49 334.10L343.79 338.12L339.19 338.12Z" fill="#8474c8"/><path d="M359.18 329.00L361.48 333.03L356.88 333.03Z" fill="#8474c8"/><path d="M376.87 333.90L379.17 337.93L374.57 337.93Z" fill="#8474c8"/><path d="M394.56 332.30L396.86 336.33L392.26 336.33Z" fill="#8474c8"/><path d="M412.25 330.70L414.55 334.73L409.95 334.73Z" fill="#8474c8"/><path d="M429.94 329.00L432.24 333.03L427.64 333.03Z" fill="#8474c8"/><path d="M447.63 325.80L449.93 329.83L445.33 329.83Z" fill="#8474c8"/><path d="M465.32 328.10L467.62 332.12L463.02 332.12Z" fill="#8474c8"/><path d="M323.80 344.10 L341.49 335.20" fill="none" stroke="#1eaae6" stroke-width="1.9" stroke-linejoin="round"/><path d="M323.80 341.11L326.79 344.10L323.80 347.09L320.81 344.10Z" fill="#1eaae6"/><path d="M341.49 332.21L344.48 335.20L341.49 338.19L338.50 335.20Z" fill="#1eaae6"/><path d="M323.80 344.10 L341.49 265.40 L359.18 261.20 L376.87 261.20 L394.56 261.20 L412.25 250.60 L429.94 249.60 L447.63 270.80 L465.32 290.00" fill="none" stroke="#344154" stroke-width="1.9" stroke-linejoin="round"/><path d="M323.80 346.40L326.10 342.38L321.50 342.38Z" fill="#344154"/><path d="M341.49 267.70L343.79 263.67L339.19 263.67Z" fill="#344154"/><path d="M359.18 263.50L361.48 259.47L356.88 259.47Z" fill="#344154"/><path d="M376.87 263.50L379.17 259.47L374.57 259.47Z" fill="#344154"/><path d="M394.56 263.50L396.86 259.47L392.26 259.47Z" fill="#344154"/><path d="M412.25 252.90L414.55 248.88L409.95 248.88Z" fill="#344154"/><path d="M429.94 251.90L432.24 247.88L427.64 247.88Z" fill="#344154"/><path d="M447.63 273.10L449.93 269.07L445.33 269.07Z" fill="#344154"/><path d="M465.32 292.30L467.62 288.27L463.02 288.27Z" fill="#344154"/><path d="M323.80 344.10 L341.49 268.80 L359.18 274.60 L376.87 239.60 L394.56 290.00 L412.25 265.40 L429.94 293.50 L447.63 256.30" fill="none" stroke="#e6078a" stroke-width="1.9" stroke-linejoin="round"/><circle cx="323.80" cy="344.10" r="2.42" fill="#e6078a"/><circle cx="341.49" cy="268.80" r="2.42" fill="#e6078a"/><circle cx="359.18" cy="274.60" r="2.42" fill="#e6078a"/><circle cx="376.87" cy="239.60" r="2.42" fill="#e6078a"/><circle cx="394.56" cy="290.00" r="2.42" fill="#e6078a"/><circle cx="412.25" cy="265.40" r="2.42" fill="#e6078a"/><circle cx="429.94" cy="293.50" r="2.42" fill="#e6078a"/><circle cx="447.63" cy="256.30" r="2.42" fill="#e6078a"/><path d="M66.50 416.50 V534.60 H243.40" fill="none" stroke="#000" stroke-width="1.6"/><path d="M61.70 534.60 H66.50" stroke="#000" stroke-width="1.6"/><path d="M61.70 495.60 H66.50" stroke="#000" stroke-width="1.6"/><path d="M61.70 456.20 H66.50" stroke="#000" stroke-width="1.6"/><path d="M61.70 417.20 H66.50" stroke="#000" stroke-width="1.6"/><path d="M66.50 534.60 V539.20" stroke="#000" stroke-width="1.6"/><path d="M84.19 534.60 V539.20" stroke="#000" stroke-width="1.6"/><path d="M101.88 534.60 V539.20" stroke="#000" stroke-width="1.6"/><path d="M119.57 534.60 V539.20" stroke="#000" stroke-width="1.6"/><path d="M137.26 534.60 V539.20" stroke="#000" stroke-width="1.6"/><path d="M154.95 534.60 V539.20" stroke="#000" stroke-width="1.6"/><path d="M172.64 534.60 V539.20" stroke="#000" stroke-width="1.6"/><path d="M190.33 534.60 V539.20" stroke="#000" stroke-width="1.6"/><path d="M208.02 534.60 V539.20" stroke="#000" stroke-width="1.6"/><path d="M225.71 534.60 V539.20" stroke="#000" stroke-width="1.6"/><path d="M243.40 534.60 V539.20" stroke="#000" stroke-width="1.6"/><text transform="translate(50.95 538.20) scale(0.9700 1)" font-size="11.59">0</text><text transform="translate(38.47 499.20) scale(0.9700 1)" font-size="11.59">200</text><text transform="translate(38.47 459.80) scale(0.9700 1)" font-size="11.59">400</text><text transform="translate(38.47 420.80) scale(0.9700 1)" font-size="11.59">600</text><text transform="translate(63.21 552.80) scale(1.0400 1)" font-size="11.30">0</text><text transform="translate(77.52 552.80) scale(1.0400 1)" font-size="11.30">12</text><text transform="translate(95.24 552.80) scale(1.0400 1)" font-size="11.30">24</text><text transform="translate(113.05 552.80) scale(1.0400 1)" font-size="11.30">36</text><text transform="translate(130.85 552.80) scale(1.0400 1)" font-size="11.30">48</text><text transform="translate(148.34 552.80) scale(1.0400 1)" font-size="11.30">60</text><text transform="translate(166.12 552.80) scale(1.0400 1)" font-size="11.30">72</text><text transform="translate(183.72 552.80) scale(1.0400 1)" font-size="11.30">84</text><text transform="translate(201.47 552.80) scale(1.0400 1)" font-size="11.30">96</text><text transform="translate(215.72 552.80) scale(1.0400 1)" font-size="11.30">108</text><text transform="translate(236.88 552.80) scale(1.0400 1)" font-size="11.30">120</text><text transform="translate(15.03 406.50) scale(1.0208 1)" font-size="17.68" font-weight="bold" fill="#000">D</text><text transform="translate(62.39 407.40) scale(0.9925 1)" font-size="14.35">CD4+CD45RA+ naive T cells</text><text transform="translate(116.04 572.70) scale(0.7589 1)" font-size="14.20">Months after GT</text><text transform="translate(29.55 502.75) rotate(-90) translate(-0.58 0) scale(0.7163 1)" font-size="16.23">Cells/mm</text><text transform="translate(29.55 502.75) rotate(-90) translate(47.90 -6.50) scale(0.8364 1)" font-size="10.57">3</text><path d="M66.50 534.60 L101.88 509.00" fill="none" stroke="#00468c" stroke-width="1.9" stroke-linejoin="round"/><path d="M66.50 532.30L68.80 536.33L64.20 536.33Z" fill="#00468c"/><path d="M101.88 506.70L104.18 510.73L99.58 510.73Z" fill="#00468c"/><path d="M66.50 534.60 L101.88 531.20 L119.57 520.60 L137.26 525.40 L154.95 531.30 L172.64 533.00 L190.33 535.00 L208.02 535.00 L225.71 528.80 L243.40 526.30" fill="none" stroke="#2db34a" stroke-width="1.9" stroke-linejoin="round"/><path d="M66.50 536.90L68.80 532.88L64.20 532.88Z" fill="#2db34a"/><path d="M101.88 533.50L104.18 529.48L99.58 529.48Z" fill="#2db34a"/><path d="M119.57 522.90L121.87 518.88L117.27 518.88Z" fill="#2db34a"/><path d="M137.26 527.70L139.56 523.67L134.96 523.67Z" fill="#2db34a"/><path d="M154.95 533.60L157.25 529.57L152.65 529.57Z" fill="#2db34a"/><path d="M172.64 535.30L174.94 531.27L170.34 531.27Z" fill="#2db34a"/><path d="M190.33 537.30L192.63 533.27L188.03 533.27Z" fill="#2db34a"/><path d="M208.02 537.30L210.32 533.27L205.72 533.27Z" fill="#2db34a"/><path d="M225.71 531.10L228.01 527.07L223.41 527.07Z" fill="#2db34a"/><path d="M243.40 528.60L245.70 524.57L241.10 524.57Z" fill="#2db34a"/><path d="M66.50 534.60 L84.19 501.30 L101.88 492.30" fill="none" stroke="#50146e" stroke-width="1.9" stroke-linejoin="round"/><path d="M66.50 531.61L69.49 534.60L66.50 537.59L63.51 534.60Z" fill="#50146e"/><path d="M84.19 498.31L87.18 501.30L84.19 504.29L81.20 501.30Z" fill="#50146e"/><path d="M101.88 489.31L104.87 492.30L101.88 495.29L98.89 492.30Z" fill="#50146e"/><path d="M66.50 534.60 L84.19 509.00" fill="none" stroke="#ff8c00" stroke-width="1.9" stroke-linejoin="round"/><circle cx="66.50" cy="534.60" r="2.42" fill="#ff8c00"/><circle cx="84.19" cy="509.00" r="2.42" fill="#ff8c00"/><path d="M66.50 534.60 L101.88 518.70 L119.57 503.80 L137.26 491.20" fill="none" stroke="#006b46" stroke-width="1.9" stroke-linejoin="round"/><rect x="64.43" y="532.53" width="4.14" height="4.14" fill="#006b46"/><rect x="99.81" y="516.63" width="4.14" height="4.14" fill="#006b46"/><rect x="117.50" y="501.73" width="4.14" height="4.14" fill="#006b46"/><rect x="135.19" y="489.13" width="4.14" height="4.14" fill="#006b46"/><path d="M66.50 534.60 L101.88 528.80 L119.57 530.80 L137.26 530.80 L154.95 529.90 L190.33 526.30" fill="none" stroke="#8474c8" stroke-width="1.9" stroke-linejoin="round"/><path d="M66.50 532.30L68.80 536.33L64.20 536.33Z" fill="#8474c8"/><path d="M101.88 526.50L104.18 530.52L99.58 530.52Z" fill="#8474c8"/><path d="M119.57 528.50L121.87 532.52L117.27 532.52Z" fill="#8474c8"/><path d="M137.26 528.50L139.56 532.52L134.96 532.52Z" fill="#8474c8"/><path d="M154.95 527.60L157.25 531.62L152.65 531.62Z" fill="#8474c8"/><path d="M190.33 524.00L192.63 528.02L188.03 528.02Z" fill="#8474c8"/><path d="M66.50 534.60 L84.19 528.80 L101.88 526.90" fill="none" stroke="#1eaae6" stroke-width="1.9" stroke-linejoin="round"/><path d="M66.50 531.61L69.49 534.60L66.50 537.59L63.51 534.60Z" fill="#1eaae6"/><path d="M84.19 525.81L87.18 528.80L84.19 531.79L81.20 528.80Z" fill="#1eaae6"/><path d="M101.88 523.91L104.87 526.90L101.88 529.89L98.89 526.90Z" fill="#1eaae6"/><path d="M66.50 534.60 L84.19 446.90 L101.88 453.80" fill="none" stroke="#344154" stroke-width="1.9" stroke-linejoin="round"/><path d="M66.50 536.90L68.80 532.88L64.20 532.88Z" fill="#344154"/><path d="M84.19 449.20L86.49 445.17L81.89 445.17Z" fill="#344154"/><path d="M101.88 456.10L104.18 452.07L99.58 452.07Z" fill="#344154"/><path d="M66.50 534.60 L84.19 434.60 L172.64 486.90" fill="none" stroke="#e6078a" stroke-width="1.9" stroke-linejoin="round"/><circle cx="66.50" cy="534.60" r="2.42" fill="#e6078a"/><circle cx="84.19" cy="434.60" r="2.42" fill="#e6078a"/><circle cx="172.64" cy="486.90" r="2.42" fill="#e6078a"/><path d="M66.50 534.60 L84.19 534.20 L101.88 534.20" fill="none" stroke="#c8102e" stroke-width="1.9" stroke-linejoin="round"/><rect x="64.43" y="532.53" width="4.14" height="4.14" fill="#c8102e"/><rect x="82.12" y="532.13" width="4.14" height="4.14" fill="#c8102e"/><rect x="99.81" y="532.13" width="4.14" height="4.14" fill="#c8102e"/><path d="M323.80 416.50 V534.60 H500.70" fill="none" stroke="#000" stroke-width="1.6"/><path d="M319.00 534.60 H323.80" stroke="#000" stroke-width="1.6"/><path d="M319.00 505.20 H323.80" stroke="#000" stroke-width="1.6"/><path d="M319.00 476.20 H323.80" stroke="#000" stroke-width="1.6"/><path d="M319.00 446.50 H323.80" stroke="#000" stroke-width="1.6"/><path d="M319.00 417.20 H323.80" stroke="#000" stroke-width="1.6"/><path d="M323.80 534.60 V539.20" stroke="#000" stroke-width="1.6"/><path d="M341.49 534.60 V539.20" stroke="#000" stroke-width="1.6"/><path d="M359.18 534.60 V539.20" stroke="#000" stroke-width="1.6"/><path d="M376.87 534.60 V539.20" stroke="#000" stroke-width="1.6"/><path d="M394.56 534.60 V539.20" stroke="#000" stroke-width="1.6"/><path d="M412.25 534.60 V539.20" stroke="#000" stroke-width="1.6"/><path d="M429.94 534.60 V539.20" stroke="#000" stroke-width="1.6"/><path d="M447.63 534.60 V539.20" stroke="#000" stroke-width="1.6"/><path d="M465.32 534.60 V539.20" stroke="#000" stroke-width="1.6"/><path d="M483.01 534.60 V539.20" stroke="#000" stroke-width="1.6"/><path d="M500.70 534.60 V539.20" stroke="#000" stroke-width="1.6"/><text transform="translate(308.25 538.20) scale(0.9700 1)" font-size="11.59">0</text><text transform="translate(295.77 508.80) scale(0.9700 1)" font-size="11.59">200</text><text transform="translate(295.77 479.80) scale(0.9700 1)" font-size="11.59">400</text><text transform="translate(295.77 450.10) scale(0.9700 1)" font-size="11.59">600</text><text transform="translate(295.77 420.80) scale(0.9700 1)" font-size="11.59">800</text><text transform="translate(320.51 552.80) scale(1.0400 1)" font-size="11.30">0</text><text transform="translate(334.82 552.80) scale(1.0400 1)" font-size="11.30">12</text><text transform="translate(352.54 552.80) scale(1.0400 1)" font-size="11.30">24</text><text transform="translate(370.35 552.80) scale(1.0400 1)" font-size="11.30">36</text><text transform="translate(388.15 552.80) scale(1.0400 1)" font-size="11.30">48</text><text transform="translate(405.64 552.80) scale(1.0400 1)" font-size="11.30">60</text><text transform="translate(423.42 552.80) scale(1.0400 1)" font-size="11.30">72</text><text transform="translate(441.02 552.80) scale(1.0400 1)" font-size="11.30">84</text><text transform="translate(458.77 552.80) scale(1.0400 1)" font-size="11.30">96</text><text transform="translate(473.02 552.80) scale(1.0400 1)" font-size="11.30">108</text><text transform="translate(494.18 552.80) scale(1.0400 1)" font-size="11.30">120</text><text transform="translate(272.50 406.40) scale(0.8709 1)" font-size="17.68" font-weight="bold" fill="#000">E</text><text transform="translate(371.18 407.40) scale(1.0003 1)" font-size="14.35">CD8+ T cells</text><text transform="translate(372.64 572.70) scale(0.7599 1)" font-size="14.20">Months after GT</text><text transform="translate(283.05 502.75) rotate(-90) translate(-0.58 0) scale(0.7163 1)" font-size="16.23">Cells/mm</text><text transform="translate(283.05 502.75) rotate(-90) translate(47.90 -6.05) scale(0.8842 1)" font-size="10.00">3</text><path d="M323.80 534.60 L341.49 533.10 L359.18 532.70 L376.87 531.20 L394.56 531.50 L412.25 530.00 L429.94 529.20 L447.63 528.30 L465.32 524.40" fill="none" stroke="#c8102e" stroke-width="1.9" stroke-linejoin="round"/><rect x="321.73" y="532.53" width="4.14" height="4.14" fill="#c8102e"/><rect x="339.42" y="531.03" width="4.14" height="4.14" fill="#c8102e"/><rect x="357.11" y="530.63" width="4.14" height="4.14" fill="#c8102e"/><rect x="374.80" y="529.13" width="4.14" height="4.14" fill="#c8102e"/><rect x="392.49" y="529.43" width="4.14" height="4.14" fill="#c8102e"/><rect x="410.18" y="527.93" width="4.14" height="4.14" fill="#c8102e"/><rect x="427.87" y="527.13" width="4.14" height="4.14" fill="#c8102e"/><rect x="445.56" y="526.23" width="4.14" height="4.14" fill="#c8102e"/><rect x="463.25" y="522.33" width="4.14" height="4.14" fill="#c8102e"/><path d="M323.80 534.60 L341.49 525.40 L359.18 516.70 L376.87 519.60 L394.56 522.50 L412.25 523.80 L429.94 523.50 L447.63 515.40 L465.32 517.70 L483.01 519.60" fill="none" stroke="#00468c" stroke-width="1.9" stroke-linejoin="round"/><path d="M323.80 532.30L326.10 536.33L321.50 536.33Z" fill="#00468c"/><path d="M341.49 523.10L343.79 527.12L339.19 527.12Z" fill="#00468c"/><path d="M359.18 514.40L361.48 518.43L356.88 518.43Z" fill="#00468c"/><path d="M376.87 517.30L379.17 521.33L374.57 521.33Z" fill="#00468c"/><path d="M394.56 520.20L396.86 524.23L392.26 524.23Z" fill="#00468c"/><path d="M412.25 521.50L414.55 525.52L409.95 525.52Z" fill="#00468c"/><path d="M429.94 521.20L432.24 525.23L427.64 525.23Z" fill="#00468c"/><path d="M447.63 513.10L449.93 517.12L445.33 517.12Z" fill="#00468c"/><path d="M465.32 515.40L467.62 519.43L463.02 519.43Z" fill="#00468c"/><path d="M483.01 517.30L485.31 521.33L480.71 521.33Z" fill="#00468c"/><path d="M323.80 534.60 L341.49 532.10 L359.18 529.20 L376.87 515.40 L394.56 521.20 L412.25 527.70 L429.94 527.70 L447.63 525.40 L465.32 525.40 L483.01 522.00 L500.70 516.70" fill="none" stroke="#2db34a" stroke-width="1.9" stroke-linejoin="round"/><path d="M323.80 536.90L326.10 532.88L321.50 532.88Z" fill="#2db34a"/><path d="M341.49 534.40L343.79 530.38L339.19 530.38Z" fill="#2db34a"/><path d="M359.18 531.50L361.48 527.48L356.88 527.48Z" fill="#2db34a"/><path d="M376.87 517.70L379.17 513.67L374.57 513.67Z" fill="#2db34a"/><path d="M394.56 523.50L396.86 519.48L392.26 519.48Z" fill="#2db34a"/><path d="M412.25 530.00L414.55 525.98L409.95 525.98Z" fill="#2db34a"/><path d="M429.94 530.00L432.24 525.98L427.64 525.98Z" fill="#2db34a"/><path d="M447.63 527.70L449.93 523.67L445.33 523.67Z" fill="#2db34a"/><path d="M465.32 527.70L467.62 523.67L463.02 523.67Z" fill="#2db34a"/><path d="M483.01 524.30L485.31 520.27L480.71 520.27Z" fill="#2db34a"/><path d="M500.70 519.00L503.00 514.98L498.40 514.98Z" fill="#2db34a"/><path d="M323.80 534.60 L341.49 519.60 L359.18 499.40 L376.87 506.20 L394.56 499.40 L412.25 499.40 L429.94 499.40 L447.63 484.00 L465.32 500.40" fill="none" stroke="#50146e" stroke-width="1.9" stroke-linejoin="round"/><path d="M323.80 531.61L326.79 534.60L323.80 537.59L320.81 534.60Z" fill="#50146e"/><path d="M341.49 516.61L344.48 519.60L341.49 522.59L338.50 519.60Z" fill="#50146e"/><path d="M359.18 496.41L362.17 499.40L359.18 502.39L356.19 499.40Z" fill="#50146e"/><path d="M376.87 503.21L379.86 506.20L376.87 509.19L373.88 506.20Z" fill="#50146e"/><path d="M394.56 496.41L397.55 499.40L394.56 502.39L391.57 499.40Z" fill="#50146e"/><path d="M412.25 496.41L415.24 499.40L412.25 502.39L409.26 499.40Z" fill="#50146e"/><path d="M429.94 496.41L432.93 499.40L429.94 502.39L426.95 499.40Z" fill="#50146e"/><path d="M447.63 481.01L450.62 484.00L447.63 486.99L444.64 484.00Z" fill="#50146e"/><path d="M465.32 497.41L468.31 500.40L465.32 503.39L462.33 500.40Z" fill="#50146e"/><path d="M323.80 534.60 L341.49 507.10 L394.56 479.60 L412.25 460.20 L429.94 487.90 L447.63 490.80 L465.32 500.40" fill="none" stroke="#ff8c00" stroke-width="1.9" stroke-linejoin="round"/><circle cx="323.80" cy="534.60" r="2.42" fill="#ff8c00"/><circle cx="341.49" cy="507.10" r="2.42" fill="#ff8c00"/><circle cx="394.56" cy="479.60" r="2.42" fill="#ff8c00"/><circle cx="412.25" cy="460.20" r="2.42" fill="#ff8c00"/><circle cx="429.94" cy="487.90" r="2.42" fill="#ff8c00"/><circle cx="447.63" cy="490.80" r="2.42" fill="#ff8c00"/><circle cx="465.32" cy="500.40" r="2.42" fill="#ff8c00"/><path d="M323.80 534.60 L341.49 521.50 L359.18 523.50 L376.87 512.90 L394.56 508.10 L412.25 505.20 L429.94 489.80 L447.63 481.20 L465.32 482.70" fill="none" stroke="#006b46" stroke-width="1.9" stroke-linejoin="round"/><rect x="321.73" y="532.53" width="4.14" height="4.14" fill="#006b46"/><rect x="339.42" y="519.43" width="4.14" height="4.14" fill="#006b46"/><rect x="357.11" y="521.43" width="4.14" height="4.14" fill="#006b46"/><rect x="374.80" y="510.83" width="4.14" height="4.14" fill="#006b46"/><rect x="392.49" y="506.03" width="4.14" height="4.14" fill="#006b46"/><rect x="410.18" y="503.13" width="4.14" height="4.14" fill="#006b46"/><rect x="427.87" y="487.73" width="4.14" height="4.14" fill="#006b46"/><rect x="445.56" y="479.13" width="4.14" height="4.14" fill="#006b46"/><rect x="463.25" y="480.63" width="4.14" height="4.14" fill="#006b46"/><path d="M323.80 534.60 L359.18 518.70 L376.87 525.00 L394.56 519.60 L412.25 512.60 L429.94 510.40 L447.63 509.00 L465.32 504.60" fill="none" stroke="#8474c8" stroke-width="1.9" stroke-linejoin="round"/><path d="M323.80 532.30L326.10 536.33L321.50 536.33Z" fill="#8474c8"/><path d="M359.18 516.40L361.48 520.43L356.88 520.43Z" fill="#8474c8"/><path d="M376.87 522.70L379.17 526.73L374.57 526.73Z" fill="#8474c8"/><path d="M394.56 517.30L396.86 521.33L392.26 521.33Z" fill="#8474c8"/><path d="M412.25 510.30L414.55 514.33L409.95 514.33Z" fill="#8474c8"/><path d="M429.94 508.10L432.24 512.12L427.64 512.12Z" fill="#8474c8"/><path d="M447.63 506.70L449.93 510.73L445.33 510.73Z" fill="#8474c8"/><path d="M465.32 502.30L467.62 506.33L463.02 506.33Z" fill="#8474c8"/><path d="M323.80 534.60 L341.49 529.00 L359.18 468.70" fill="none" stroke="#1eaae6" stroke-width="1.9" stroke-linejoin="round"/><path d="M323.80 531.61L326.79 534.60L323.80 537.59L320.81 534.60Z" fill="#1eaae6"/><path d="M341.49 526.01L344.48 529.00L341.49 531.99L338.50 529.00Z" fill="#1eaae6"/><path d="M359.18 465.71L362.17 468.70L359.18 471.69L356.19 468.70Z" fill="#1eaae6"/><path d="M323.80 534.60 L341.49 484.00 L359.18 468.10 L376.87 467.30 L394.56 468.70 L412.25 433.50 L429.94 449.40 L447.63 460.40 L465.32 467.30" fill="none" stroke="#344154" stroke-width="1.9" stroke-linejoin="round"/><path d="M323.80 536.90L326.10 532.88L321.50 532.88Z" fill="#344154"/><path d="M341.49 486.30L343.79 482.27L339.19 482.27Z" fill="#344154"/><path d="M359.18 470.40L361.48 466.38L356.88 466.38Z" fill="#344154"/><path d="M376.87 469.60L379.17 465.57L374.57 465.57Z" fill="#344154"/><path d="M394.56 471.00L396.86 466.97L392.26 466.97Z" fill="#344154"/><path d="M412.25 435.80L414.55 431.77L409.95 431.77Z" fill="#344154"/><path d="M429.94 451.70L432.24 447.67L427.64 447.67Z" fill="#344154"/><path d="M447.63 462.70L449.93 458.67L445.33 458.67Z" fill="#344154"/><path d="M465.32 469.60L467.62 465.57L463.02 465.57Z" fill="#344154"/><path d="M323.80 534.60 L341.49 511.00 L359.18 506.50 L376.87 496.90 L394.56 510.00 L412.25 504.20 L429.94 504.20 L447.63 480.80" fill="none" stroke="#e6078a" stroke-width="1.9" stroke-linejoin="round"/><circle cx="323.80" cy="534.60" r="2.42" fill="#e6078a"/><circle cx="341.49" cy="511.00" r="2.42" fill="#e6078a"/><circle cx="359.18" cy="506.50" r="2.42" fill="#e6078a"/><circle cx="376.87" cy="496.90" r="2.42" fill="#e6078a"/><circle cx="394.56" cy="510.00" r="2.42" fill="#e6078a"/><circle cx="412.25" cy="504.20" r="2.42" fill="#e6078a"/><circle cx="429.94" cy="504.20" r="2.42" fill="#e6078a"/><circle cx="447.63" cy="480.80" r="2.42" fill="#e6078a"/><path d="M66.50 613.00 V731.10 H243.40" fill="none" stroke="#000" stroke-width="1.6"/><path d="M61.70 731.10 H66.50" stroke="#000" stroke-width="1.6"/><path d="M61.70 707.70 H66.50" stroke="#000" stroke-width="1.6"/><path d="M61.70 684.20 H66.50" stroke="#000" stroke-width="1.6"/><path d="M61.70 660.70 H66.50" stroke="#000" stroke-width="1.6"/><path d="M61.70 637.20 H66.50" stroke="#000" stroke-width="1.6"/><path d="M61.70 613.60 H66.50" stroke="#000" stroke-width="1.6"/><path d="M66.50 731.10 V735.70" stroke="#000" stroke-width="1.6"/><path d="M84.19 731.10 V735.70" stroke="#000" stroke-width="1.6"/><path d="M101.88 731.10 V735.70" stroke="#000" stroke-width="1.6"/><path d="M119.57 731.10 V735.70" stroke="#000" stroke-width="1.6"/><path d="M137.26 731.10 V735.70" stroke="#000" stroke-width="1.6"/><path d="M154.95 731.10 V735.70" stroke="#000" stroke-width="1.6"/><path d="M172.64 731.10 V735.70" stroke="#000" stroke-width="1.6"/><path d="M190.33 731.10 V735.70" stroke="#000" stroke-width="1.6"/><path d="M208.02 731.10 V735.70" stroke="#000" stroke-width="1.6"/><path d="M225.71 731.10 V735.70" stroke="#000" stroke-width="1.6"/><path d="M243.40 731.10 V735.70" stroke="#000" stroke-width="1.6"/><text transform="translate(50.95 734.70) scale(0.9700 1)" font-size="11.59">0</text><text transform="translate(38.47 711.30) scale(0.9700 1)" font-size="11.59">100</text><text transform="translate(38.47 687.80) scale(0.9700 1)" font-size="11.59">200</text><text transform="translate(38.47 664.30) scale(0.9700 1)" font-size="11.59">300</text><text transform="translate(38.47 640.80) scale(0.9700 1)" font-size="11.59">400</text><text transform="translate(38.47 617.20) scale(0.9700 1)" font-size="11.59">500</text><text transform="translate(63.21 749.30) scale(1.0400 1)" font-size="11.30">0</text><text transform="translate(77.52 749.30) scale(1.0400 1)" font-size="11.30">12</text><text transform="translate(95.24 749.30) scale(1.0400 1)" font-size="11.30">24</text><text transform="translate(113.05 749.30) scale(1.0400 1)" font-size="11.30">36</text><text transform="translate(130.85 749.30) scale(1.0400 1)" font-size="11.30">48</text><text transform="translate(148.34 749.30) scale(1.0400 1)" font-size="11.30">60</text><text transform="translate(166.12 749.30) scale(1.0400 1)" font-size="11.30">72</text><text transform="translate(183.72 749.30) scale(1.0400 1)" font-size="11.30">84</text><text transform="translate(201.47 749.30) scale(1.0400 1)" font-size="11.30">96</text><text transform="translate(215.72 749.30) scale(1.0400 1)" font-size="11.30">108</text><text transform="translate(236.88 749.30) scale(1.0400 1)" font-size="11.30">120</text><text transform="translate(15.13 602.90) scale(0.9315 1)" font-size="17.68" font-weight="bold" fill="#000">F</text><text transform="translate(108.78 604.50) scale(0.9977 1)" font-size="14.35">CD19+ B cells</text><text transform="translate(116.04 768.70) scale(0.7589 1)" font-size="14.20">Months after GT</text><text transform="translate(29.55 697.35) rotate(-90) translate(-0.57 0) scale(0.7042 1)" font-size="16.23">Cells/mm</text><text transform="translate(29.55 697.35) rotate(-90) translate(47.10 -6.05) scale(0.7885 1)" font-size="11.21">3</text><path d="M66.50 731.10 L84.19 697.30 L101.88 711.70 L119.57 709.80 L137.26 701.20 L154.95 715.60 L172.64 714.60 L190.33 720.80 L208.02 719.40" fill="none" stroke="#c8102e" stroke-width="1.9" stroke-linejoin="round"/><rect x="64.43" y="729.03" width="4.14" height="4.14" fill="#c8102e"/><rect x="82.12" y="695.23" width="4.14" height="4.14" fill="#c8102e"/><rect x="99.81" y="709.63" width="4.14" height="4.14" fill="#c8102e"/><rect x="117.50" y="707.73" width="4.14" height="4.14" fill="#c8102e"/><rect x="135.19" y="699.13" width="4.14" height="4.14" fill="#c8102e"/><rect x="152.88" y="713.53" width="4.14" height="4.14" fill="#c8102e"/><rect x="170.57" y="712.53" width="4.14" height="4.14" fill="#c8102e"/><rect x="188.26" y="718.73" width="4.14" height="4.14" fill="#c8102e"/><rect x="205.95" y="717.33" width="4.14" height="4.14" fill="#c8102e"/><path d="M66.50 731.10 L101.88 685.80 L119.57 697.30 L137.26 698.30 L154.95 708.50 L172.64 709.80 L190.33 710.80 L208.02 712.30 L225.71 714.20" fill="none" stroke="#00468c" stroke-width="1.9" stroke-linejoin="round"/><path d="M66.50 728.80L68.80 732.83L64.20 732.83Z" fill="#00468c"/><path d="M101.88 683.50L104.18 687.52L99.58 687.52Z" fill="#00468c"/><path d="M119.57 695.00L121.87 699.02L117.27 699.02Z" fill="#00468c"/><path d="M137.26 696.00L139.56 700.02L134.96 700.02Z" fill="#00468c"/><path d="M154.95 706.20L157.25 710.23L152.65 710.23Z" fill="#00468c"/><path d="M172.64 707.50L174.94 711.52L170.34 711.52Z" fill="#00468c"/><path d="M190.33 708.50L192.63 712.52L188.03 712.52Z" fill="#00468c"/><path d="M208.02 710.00L210.32 714.02L205.72 714.02Z" fill="#00468c"/><path d="M225.71 711.90L228.01 715.93L223.41 715.93Z" fill="#00468c"/><path d="M66.50 731.10 L84.19 729.00 L101.88 725.20 L119.57 722.70 L137.26 725.80 L154.95 729.60 L172.64 729.60 L190.33 729.60 L208.02 729.60 L225.71 729.60 L243.40 729.60" fill="none" stroke="#2db34a" stroke-width="1.9" stroke-linejoin="round"/><path d="M66.50 733.40L68.80 729.38L64.20 729.38Z" fill="#2db34a"/><path d="M84.19 731.30L86.49 727.27L81.89 727.27Z" fill="#2db34a"/><path d="M101.88 727.50L104.18 723.48L99.58 723.48Z" fill="#2db34a"/><path d="M119.57 725.00L121.87 720.98L117.27 720.98Z" fill="#2db34a"/><path d="M137.26 728.10L139.56 724.07L134.96 724.07Z" fill="#2db34a"/><path d="M154.95 731.90L157.25 727.88L152.65 727.88Z" fill="#2db34a"/><path d="M172.64 731.90L174.94 727.88L170.34 727.88Z" fill="#2db34a"/><path d="M190.33 731.90L192.63 727.88L188.03 727.88Z" fill="#2db34a"/><path d="M208.02 731.90L210.32 727.88L205.72 727.88Z" fill="#2db34a"/><path d="M225.71 731.90L228.01 727.88L223.41 727.88Z" fill="#2db34a"/><path d="M243.40 731.90L245.70 727.88L241.10 727.88Z" fill="#2db34a"/><path d="M66.50 731.10 L84.19 691.50 L101.88 637.30 L119.57 655.00 L137.26 662.30 L154.95 675.20 L172.64 684.80 L190.33 683.50 L208.02 701.20" fill="none" stroke="#50146e" stroke-width="1.9" stroke-linejoin="round"/><path d="M66.50 728.11L69.49 731.10L66.50 734.09L63.51 731.10Z" fill="#50146e"/><path d="M84.19 688.51L87.18 691.50L84.19 694.49L81.20 691.50Z" fill="#50146e"/><path d="M101.88 634.31L104.87 637.30L101.88 640.29L98.89 637.30Z" fill="#50146e"/><path d="M119.57 652.01L122.56 655.00L119.57 657.99L116.58 655.00Z" fill="#50146e"/><path d="M137.26 659.31L140.25 662.30L137.26 665.29L134.27 662.30Z" fill="#50146e"/><path d="M154.95 672.21L157.94 675.20L154.95 678.19L151.96 675.20Z" fill="#50146e"/><path d="M172.64 681.81L175.63 684.80L172.64 687.79L169.65 684.80Z" fill="#50146e"/><path d="M190.33 680.51L193.32 683.50L190.33 686.49L187.34 683.50Z" fill="#50146e"/><path d="M208.02 698.21L211.01 701.20L208.02 704.19L205.03 701.20Z" fill="#50146e"/><path d="M66.50 731.10 L84.19 708.80 L137.26 691.50 L154.95 691.50 L172.64 695.00 L190.33 708.50 L208.02 696.90" fill="none" stroke="#ff8c00" stroke-width="1.9" stroke-linejoin="round"/><circle cx="66.50" cy="731.10" r="2.42" fill="#ff8c00"/><circle cx="84.19" cy="708.80" r="2.42" fill="#ff8c00"/><circle cx="137.26" cy="691.50" r="2.42" fill="#ff8c00"/><circle cx="154.95" cy="691.50" r="2.42" fill="#ff8c00"/><circle cx="172.64" cy="695.00" r="2.42" fill="#ff8c00"/><circle cx="190.33" cy="708.50" r="2.42" fill="#ff8c00"/><circle cx="208.02" cy="696.90" r="2.42" fill="#ff8c00"/><path d="M66.50 731.10 L84.19 729.00 L101.88 728.00 L119.57 714.20 L137.26 711.20 L154.95 706.00 L172.64 700.20 L190.33 687.30 L208.02 685.40" fill="none" stroke="#006b46" stroke-width="1.9" stroke-linejoin="round"/><rect x="64.43" y="729.03" width="4.14" height="4.14" fill="#006b46"/><rect x="82.12" y="726.93" width="4.14" height="4.14" fill="#006b46"/><rect x="99.81" y="725.93" width="4.14" height="4.14" fill="#006b46"/><rect x="117.50" y="712.13" width="4.14" height="4.14" fill="#006b46"/><rect x="135.19" y="709.13" width="4.14" height="4.14" fill="#006b46"/><rect x="152.88" y="703.93" width="4.14" height="4.14" fill="#006b46"/><rect x="170.57" y="698.13" width="4.14" height="4.14" fill="#006b46"/><rect x="188.26" y="685.23" width="4.14" height="4.14" fill="#006b46"/><rect x="205.95" y="683.33" width="4.14" height="4.14" fill="#006b46"/><path d="M66.50 731.10 L84.19 725.20 L101.88 727.10 L119.57 730.00 L137.26 730.00 L154.95 729.00 L172.64 729.00 L190.33 728.00 L208.02 727.70" fill="none" stroke="#8474c8" stroke-width="1.9" stroke-linejoin="round"/><path d="M66.50 728.80L68.80 732.83L64.20 732.83Z" fill="#8474c8"/><path d="M84.19 722.90L86.49 726.93L81.89 726.93Z" fill="#8474c8"/><path d="M101.88 724.80L104.18 728.83L99.58 728.83Z" fill="#8474c8"/><path d="M119.57 727.70L121.87 731.73L117.27 731.73Z" fill="#8474c8"/><path d="M137.26 727.70L139.56 731.73L134.96 731.73Z" fill="#8474c8"/><path d="M154.95 726.70L157.25 730.73L152.65 730.73Z" fill="#8474c8"/><path d="M172.64 726.70L174.94 730.73L170.34 730.73Z" fill="#8474c8"/><path d="M190.33 725.70L192.63 729.73L188.03 729.73Z" fill="#8474c8"/><path d="M208.02 725.40L210.32 729.43L205.72 729.43Z" fill="#8474c8"/><path d="M66.50 731.10 L84.19 714.20 L101.88 719.40" fill="none" stroke="#1eaae6" stroke-width="1.9" stroke-linejoin="round"/><path d="M66.50 728.11L69.49 731.10L66.50 734.09L63.51 731.10Z" fill="#1eaae6"/><path d="M84.19 711.21L87.18 714.20L84.19 717.19L81.20 714.20Z" fill="#1eaae6"/><path d="M101.88 716.41L104.87 719.40L101.88 722.39L98.89 719.40Z" fill="#1eaae6"/><path d="M66.50 731.10 L84.19 674.20 L101.88 676.20 L119.57 682.90 L137.26 687.70 L154.95 686.70 L172.64 691.50 L190.33 699.20 L208.02 711.20" fill="none" stroke="#344154" stroke-width="1.9" stroke-linejoin="round"/><path d="M66.50 733.40L68.80 729.38L64.20 729.38Z" fill="#344154"/><path d="M84.19 676.50L86.49 672.48L81.89 672.48Z" fill="#344154"/><path d="M101.88 678.50L104.18 674.48L99.58 674.48Z" fill="#344154"/><path d="M119.57 685.20L121.87 681.17L117.27 681.17Z" fill="#344154"/><path d="M137.26 690.00L139.56 685.98L134.96 685.98Z" fill="#344154"/><path d="M154.95 689.00L157.25 684.98L152.65 684.98Z" fill="#344154"/><path d="M172.64 693.80L174.94 689.77L170.34 689.77Z" fill="#344154"/><path d="M190.33 701.50L192.63 697.48L188.03 697.48Z" fill="#344154"/><path d="M208.02 713.50L210.32 709.48L205.72 709.48Z" fill="#344154"/><path d="M66.50 731.10 L84.19 627.10 L101.88 631.90 L119.57 620.00 L137.26 678.10 L154.95 631.50 L172.64 670.80 L190.33 649.60" fill="none" stroke="#e6078a" stroke-width="1.9" stroke-linejoin="round"/><circle cx="66.50" cy="731.10" r="2.42" fill="#e6078a"/><circle cx="84.19" cy="627.10" r="2.42" fill="#e6078a"/><circle cx="101.88" cy="631.90" r="2.42" fill="#e6078a"/><circle cx="119.57" cy="620.00" r="2.42" fill="#e6078a"/><circle cx="137.26" cy="678.10" r="2.42" fill="#e6078a"/><circle cx="154.95" cy="631.50" r="2.42" fill="#e6078a"/><circle cx="172.64" cy="670.80" r="2.42" fill="#e6078a"/><circle cx="190.33" cy="649.60" r="2.42" fill="#e6078a"/><path d="M323.80 613.00 V731.10 H500.70" fill="none" stroke="#000" stroke-width="1.6"/><path d="M319.00 731.10 H323.80" stroke="#000" stroke-width="1.6"/><path d="M319.00 691.90 H323.80" stroke="#000" stroke-width="1.6"/><path d="M319.00 652.60 H323.80" stroke="#000" stroke-width="1.6"/><path d="M319.00 613.50 H323.80" stroke="#000" stroke-width="1.6"/><path d="M323.80 731.10 V735.70" stroke="#000" stroke-width="1.6"/><path d="M341.49 731.10 V735.70" stroke="#000" stroke-width="1.6"/><path d="M359.18 731.10 V735.70" stroke="#000" stroke-width="1.6"/><path d="M376.87 731.10 V735.70" stroke="#000" stroke-width="1.6"/><path d="M394.56 731.10 V735.70" stroke="#000" stroke-width="1.6"/><path d="M412.25 731.10 V735.70" stroke="#000" stroke-width="1.6"/><path d="M429.94 731.10 V735.70" stroke="#000" stroke-width="1.6"/><path d="M447.63 731.10 V735.70" stroke="#000" stroke-width="1.6"/><path d="M465.32 731.10 V735.70" stroke="#000" stroke-width="1.6"/><path d="M483.01 731.10 V735.70" stroke="#000" stroke-width="1.6"/><path d="M500.70 731.10 V735.70" stroke="#000" stroke-width="1.6"/><text transform="translate(308.25 734.70) scale(0.9700 1)" font-size="11.59">0</text><text transform="translate(295.77 695.50) scale(0.9700 1)" font-size="11.59">100</text><text transform="translate(295.77 656.20) scale(0.9700 1)" font-size="11.59">200</text><text transform="translate(295.77 617.10) scale(0.9700 1)" font-size="11.59">300</text><text transform="translate(320.51 749.30) scale(1.0400 1)" font-size="11.30">0</text><text transform="translate(334.82 749.30) scale(1.0400 1)" font-size="11.30">12</text><text transform="translate(352.54 749.30) scale(1.0400 1)" font-size="11.30">24</text><text transform="translate(370.35 749.30) scale(1.0400 1)" font-size="11.30">36</text><text transform="translate(388.15 749.30) scale(1.0400 1)" font-size="11.30">48</text><text transform="translate(405.64 749.30) scale(1.0400 1)" font-size="11.30">60</text><text transform="translate(423.42 749.30) scale(1.0400 1)" font-size="11.30">72</text><text transform="translate(441.02 749.30) scale(1.0400 1)" font-size="11.30">84</text><text transform="translate(458.77 749.30) scale(1.0400 1)" font-size="11.30">96</text><text transform="translate(473.02 749.30) scale(1.0400 1)" font-size="11.30">108</text><text transform="translate(494.18 749.30) scale(1.0400 1)" font-size="11.30">120</text><text transform="translate(272.09 602.80) scale(0.9971 1)" font-size="17.68" font-weight="bold" fill="#000">G</text><text transform="translate(337.57 604.00) scale(1.0111 1)" font-size="14.35">CD16+CD56+ NK cells</text><text transform="translate(372.64 768.70) scale(0.7599 1)" font-size="14.20">Months after GT</text><text transform="translate(285.55 697.75) rotate(-90) translate(-0.58 0) scale(0.7103 1)" font-size="16.23">Cells/mm</text><text transform="translate(285.55 697.75) rotate(-90) translate(47.50 -4.40) scale(0.7835 1)" font-size="11.29">3</text><path d="M323.80 731.10 L341.49 722.30 L359.18 713.70" fill="none" stroke="#1eaae6" stroke-width="1.9" stroke-linejoin="round"/><path d="M323.80 728.11L326.79 731.10L323.80 734.09L320.81 731.10Z" fill="#1eaae6"/><path d="M341.49 719.31L344.48 722.30L341.49 725.29L338.50 722.30Z" fill="#1eaae6"/><path d="M359.18 710.71L362.17 713.70L359.18 716.69L356.19 713.70Z" fill="#1eaae6"/><path d="M323.80 731.10 L341.49 728.10 L359.18 725.20 L376.87 723.80 L394.56 729.00 L412.25 726.50 L429.94 723.30 L447.63 721.90 L465.32 721.30 L483.01 720.40" fill="none" stroke="#00468c" stroke-width="1.9" stroke-linejoin="round"/><path d="M323.80 728.80L326.10 732.83L321.50 732.83Z" fill="#00468c"/><path d="M341.49 725.80L343.79 729.83L339.19 729.83Z" fill="#00468c"/><path d="M359.18 722.90L361.48 726.93L356.88 726.93Z" fill="#00468c"/><path d="M376.87 721.50L379.17 725.52L374.57 725.52Z" fill="#00468c"/><path d="M394.56 726.70L396.86 730.73L392.26 730.73Z" fill="#00468c"/><path d="M412.25 724.20L414.55 728.23L409.95 728.23Z" fill="#00468c"/><path d="M429.94 721.00L432.24 725.02L427.64 725.02Z" fill="#00468c"/><path d="M447.63 719.60L449.93 723.62L445.33 723.62Z" fill="#00468c"/><path d="M465.32 719.00L467.62 723.02L463.02 723.02Z" fill="#00468c"/><path d="M483.01 718.10L485.31 722.12L480.71 722.12Z" fill="#00468c"/><path d="M323.80 731.10 L341.49 720.40 L359.18 716.50 L376.87 709.80 L394.56 716.20 L412.25 723.30 L429.94 722.70 L447.63 722.70 L465.32 725.20 L483.01 722.70 L500.70 730.00" fill="none" stroke="#2db34a" stroke-width="1.9" stroke-linejoin="round"/><path d="M323.80 733.40L326.10 729.38L321.50 729.38Z" fill="#2db34a"/><path d="M341.49 722.70L343.79 718.67L339.19 718.67Z" fill="#2db34a"/><path d="M359.18 718.80L361.48 714.77L356.88 714.77Z" fill="#2db34a"/><path d="M376.87 712.10L379.17 708.07L374.57 708.07Z" fill="#2db34a"/><path d="M394.56 718.50L396.86 714.48L392.26 714.48Z" fill="#2db34a"/><path d="M412.25 725.60L414.55 721.57L409.95 721.57Z" fill="#2db34a"/><path d="M429.94 725.00L432.24 720.98L427.64 720.98Z" fill="#2db34a"/><path d="M447.63 725.00L449.93 720.98L445.33 720.98Z" fill="#2db34a"/><path d="M465.32 727.50L467.62 723.48L463.02 723.48Z" fill="#2db34a"/><path d="M483.01 725.00L485.31 720.98L480.71 720.98Z" fill="#2db34a"/><path d="M500.70 732.30L503.00 728.27L498.40 728.27Z" fill="#2db34a"/><path d="M323.80 731.10 L341.49 712.70 L359.18 708.80 L376.87 721.30 L394.56 721.30 L412.25 715.60 L429.94 711.70 L447.63 722.30 L465.32 709.80" fill="none" stroke="#50146e" stroke-width="1.9" stroke-linejoin="round"/><path d="M323.80 728.11L326.79 731.10L323.80 734.09L320.81 731.10Z" fill="#50146e"/><path d="M341.49 709.71L344.48 712.70L341.49 715.69L338.50 712.70Z" fill="#50146e"/><path d="M359.18 705.81L362.17 708.80L359.18 711.79L356.19 708.80Z" fill="#50146e"/><path d="M376.87 718.31L379.86 721.30L376.87 724.29L373.88 721.30Z" fill="#50146e"/><path d="M394.56 718.31L397.55 721.30L394.56 724.29L391.57 721.30Z" fill="#50146e"/><path d="M412.25 712.61L415.24 715.60L412.25 718.59L409.26 715.60Z" fill="#50146e"/><path d="M429.94 708.71L432.93 711.70L429.94 714.69L426.95 711.70Z" fill="#50146e"/><path d="M447.63 719.31L450.62 722.30L447.63 725.29L444.64 722.30Z" fill="#50146e"/><path d="M465.32 706.81L468.31 709.80L465.32 712.79L462.33 709.80Z" fill="#50146e"/><path d="M323.80 731.10 L341.49 723.30 L359.18 716.90 L376.87 710.80 L394.56 705.40 L412.25 703.50 L429.94 715.60 L447.63 708.50 L465.32 679.60" fill="none" stroke="#ff8c00" stroke-width="1.9" stroke-linejoin="round"/><circle cx="323.80" cy="731.10" r="2.42" fill="#ff8c00"/><circle cx="341.49" cy="723.30" r="2.42" fill="#ff8c00"/><circle cx="359.18" cy="716.90" r="2.42" fill="#ff8c00"/><circle cx="376.87" cy="710.80" r="2.42" fill="#ff8c00"/><circle cx="394.56" cy="705.40" r="2.42" fill="#ff8c00"/><circle cx="412.25" cy="703.50" r="2.42" fill="#ff8c00"/><circle cx="429.94" cy="715.60" r="2.42" fill="#ff8c00"/><circle cx="447.63" cy="708.50" r="2.42" fill="#ff8c00"/><circle cx="465.32" cy="679.60" r="2.42" fill="#ff8c00"/><path d="M323.80 731.10 L341.49 725.20 L359.18 720.40 L376.87 717.50 L394.56 717.50 L412.25 722.30 L429.94 710.40 L447.63 720.00 L465.32 716.90" fill="none" stroke="#006b46" stroke-width="1.9" stroke-linejoin="round"/><rect x="321.73" y="729.03" width="4.14" height="4.14" fill="#006b46"/><rect x="339.42" y="723.13" width="4.14" height="4.14" fill="#006b46"/><rect x="357.11" y="718.33" width="4.14" height="4.14" fill="#006b46"/><rect x="374.80" y="715.43" width="4.14" height="4.14" fill="#006b46"/><rect x="392.49" y="715.43" width="4.14" height="4.14" fill="#006b46"/><rect x="410.18" y="720.23" width="4.14" height="4.14" fill="#006b46"/><rect x="427.87" y="708.33" width="4.14" height="4.14" fill="#006b46"/><rect x="445.56" y="717.93" width="4.14" height="4.14" fill="#006b46"/><rect x="463.25" y="714.83" width="4.14" height="4.14" fill="#006b46"/><path d="M323.80 731.10 L341.49 725.20 L359.18 723.30 L376.87 730.00 L394.56 728.10 L412.25 726.20 L429.94 727.10 L447.63 726.50 L465.32 728.10" fill="none" stroke="#8474c8" stroke-width="1.9" stroke-linejoin="round"/><path d="M323.80 728.80L326.10 732.83L321.50 732.83Z" fill="#8474c8"/><path d="M341.49 722.90L343.79 726.93L339.19 726.93Z" fill="#8474c8"/><path d="M359.18 721.00L361.48 725.02L356.88 725.02Z" fill="#8474c8"/><path d="M376.87 727.70L379.17 731.73L374.57 731.73Z" fill="#8474c8"/><path d="M394.56 725.80L396.86 729.83L392.26 729.83Z" fill="#8474c8"/><path d="M412.25 723.90L414.55 727.93L409.95 727.93Z" fill="#8474c8"/><path d="M429.94 724.80L432.24 728.83L427.64 728.83Z" fill="#8474c8"/><path d="M447.63 724.20L449.93 728.23L445.33 728.23Z" fill="#8474c8"/><path d="M465.32 725.80L467.62 729.83L463.02 729.83Z" fill="#8474c8"/><path d="M323.80 731.10 L341.49 703.10 L359.18 698.30 L376.87 713.70 L394.56 709.80 L412.25 706.00 L429.94 713.70 L447.63 704.60 L465.32 720.40" fill="none" stroke="#344154" stroke-width="1.9" stroke-linejoin="round"/><path d="M323.80 733.40L326.10 729.38L321.50 729.38Z" fill="#344154"/><path d="M341.49 705.40L343.79 701.38L339.19 701.38Z" fill="#344154"/><path d="M359.18 700.60L361.48 696.57L356.88 696.57Z" fill="#344154"/><path d="M376.87 716.00L379.17 711.98L374.57 711.98Z" fill="#344154"/><path d="M394.56 712.10L396.86 708.07L392.26 708.07Z" fill="#344154"/><path d="M412.25 708.30L414.55 704.27L409.95 704.27Z" fill="#344154"/><path d="M429.94 716.00L432.24 711.98L427.64 711.98Z" fill="#344154"/><path d="M447.63 706.90L449.93 702.88L445.33 702.88Z" fill="#344154"/><path d="M465.32 722.70L467.62 718.67L463.02 718.67Z" fill="#344154"/><path d="M323.80 731.10 L341.49 693.80 L359.18 672.70 L376.87 638.10 L394.56 656.50 L412.25 662.30 L429.94 616.20 L447.63 658.50" fill="none" stroke="#e6078a" stroke-width="1.9" stroke-linejoin="round"/><circle cx="323.80" cy="731.10" r="2.42" fill="#e6078a"/><circle cx="341.49" cy="693.80" r="2.42" fill="#e6078a"/><circle cx="359.18" cy="672.70" r="2.42" fill="#e6078a"/><circle cx="376.87" cy="638.10" r="2.42" fill="#e6078a"/><circle cx="394.56" cy="656.50" r="2.42" fill="#e6078a"/><circle cx="412.25" cy="662.30" r="2.42" fill="#e6078a"/><circle cx="429.94" cy="616.20" r="2.42" fill="#e6078a"/><circle cx="447.63" cy="658.50" r="2.42" fill="#e6078a"/><path d="M323.80 731.10 L341.49 686.20 L359.18 696.30 L376.87 688.10 L394.56 698.30 L412.25 701.20 L429.94 685.80 L447.63 690.00 L465.32 689.20" fill="none" stroke="#c8102e" stroke-width="1.9" stroke-linejoin="round"/><rect x="321.73" y="729.03" width="4.14" height="4.14" fill="#c8102e"/><rect x="339.42" y="684.13" width="4.14" height="4.14" fill="#c8102e"/><rect x="357.11" y="694.23" width="4.14" height="4.14" fill="#c8102e"/><rect x="374.80" y="686.03" width="4.14" height="4.14" fill="#c8102e"/><rect x="392.49" y="696.23" width="4.14" height="4.14" fill="#c8102e"/><rect x="410.18" y="699.13" width="4.14" height="4.14" fill="#c8102e"/><rect x="427.87" y="683.73" width="4.14" height="4.14" fill="#c8102e"/><rect x="445.56" y="687.93" width="4.14" height="4.14" fill="#c8102e"/><rect x="463.25" y="687.13" width="4.14" height="4.14" fill="#c8102e"/></g></svg></body></html>
